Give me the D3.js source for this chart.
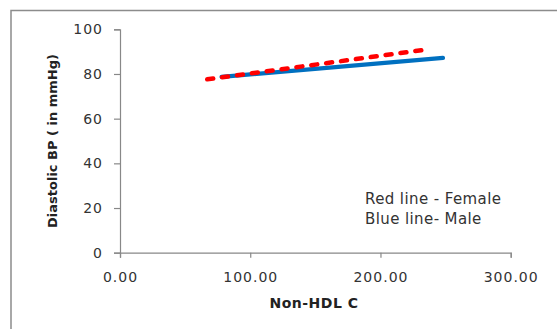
<!DOCTYPE html>
<html><head><meta charset="utf-8">
<script src="https://cdn.jsdelivr.net/npm/d3@7"></script>
<style>body{margin:0;background:#fff;} svg{display:block;}</style>
</head><body>
<svg id="c" width="557" height="329"></svg>
<script>
const xTicks = [0, 100, 200, 300];
const yTicks = [0, 20, 40, 60, 80, 100];
const femaleX = [67, 232];
const femaleY = [77.6, 90.7];
const maleX = [78, 248];
const maleY = [78.7, 87.2];
const legendLines = ["Red line - Female", "Blue line- Male"];

const svg = d3.select("#c");
svg.append("rect").attr("x", 11).attr("y", 10.5).attr("width", 560).attr("height", 330)
  .attr("fill", "none").attr("stroke", "#8c8c8c").attr("stroke-width", 1.5);

const x = d3.scaleLinear().domain([0, 300]).range([120, 510.7]);
const y = d3.scaleLinear().domain([0, 100]).range([252.7, 29.3]);

const font = "DejaVu Sans, sans-serif";
const gx = svg.append("g").attr("transform", "translate(0,252.7)")
  .call(d3.axisBottom(x).tickValues(xTicks).tickFormat(d3.format(".2f")).tickSize(5).tickPadding(14));
const gy = svg.append("g").attr("transform", "translate(120,0)")
  .call(d3.axisLeft(y).tickValues(yTicks).tickSize(6).tickPadding(11));
[gx, gy].forEach(g => {
  g.select(".domain").attr("stroke", "#888").attr("stroke-width", 1.2);
  g.selectAll(".tick line").attr("stroke", "#888").attr("stroke-width", 1.2);
  g.selectAll("text").attr("font-family", font).attr("font-size", 14).attr("fill", "#333")
    .attr("letter-spacing", "1px");
});

const line = d3.line().x(d => x(d[0])).y(d => y(d[1]));
svg.append("path").datum(maleX.map((v, i) => [v, maleY[i]]))
  .attr("d", line).attr("fill", "none").attr("stroke", "#0070C0").attr("stroke-width", 4.2)
  .attr("stroke-linecap", "round");
svg.append("path").datum(femaleX.map((v, i) => [v, femaleY[i]]))
  .attr("d", line).attr("fill", "none").attr("stroke", "#FF0000").attr("stroke-width", 4.5)
  .attr("stroke-dasharray", "6,9").attr("stroke-linecap", "round");

svg.append("text").attr("x", 314).attr("y", 308).attr("text-anchor", "middle")
  .attr("font-family", font).attr("font-weight", "bold").attr("font-size", 14).attr("fill", "#222")
  .attr("letter-spacing", "0.5px")
  .text("Non-HDL C");
svg.append("text").attr("transform", "translate(57,141) rotate(-90)").attr("text-anchor", "middle")
  .attr("font-family", font).attr("font-weight", "bold").attr("font-size", 13).attr("fill", "#222")
  .text("Diastolic BP ( in mmHg)");

svg.selectAll(".leg").data(legendLines).enter().append("text").attr("class", "leg")
  .attr("x", 365).attr("y", (d, i) => 203.5 + i * 20)
  .attr("font-family", font).attr("font-size", 15).attr("fill", "#333")
  .attr("letter-spacing", "0.4px").text(d => d);
</script>
</body></html>
